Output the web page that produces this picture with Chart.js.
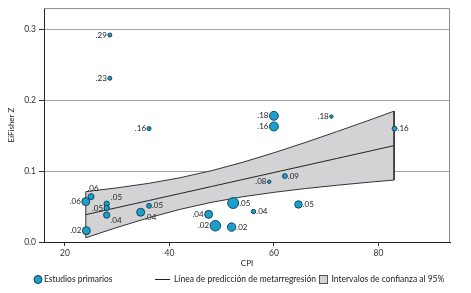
<!DOCTYPE html>
<html>
<head>
<meta charset="utf-8">
<script src="https://cdn.jsdelivr.net/npm/chart.js@4.4.0/dist/chart.umd.min.js"></script>
<style>
  html, body { margin: 0; padding: 0; background: #fff; }
  #wrap { width: 471px; height: 293px; }
</style>
</head>
<body>
<div id="wrap"><canvas id="chart"></canvas></div>
<script>
// Estudios primarios (CPI, EiFisher Z, peso relativo)
const cpi      = [28.6, 28.6, 36.1, 60.0, 60.0, 71.0, 83.1, 62.1, 59.1, 52.2, 56.1, 64.7, 47.5, 48.8, 51.9, 36.1, 34.5, 24.0, 25.0, 24.1, 28.0, 28.0, 28.0];
const fisherZ  = [0.292, 0.231, 0.160, 0.178, 0.163, 0.177, 0.160, 0.093, 0.085, 0.055, 0.043, 0.053, 0.039, 0.023, 0.021, 0.051, 0.042, 0.057, 0.064, 0.016, 0.054, 0.048, 0.038];
const pesos    = [4, 4, 4, 20, 20, 3, 6, 6, 3, 30, 5, 14, 16, 28, 18, 6, 16, 16, 9, 16, 7, 7, 10];
const etiquetas = ['.29', '.23', '.16', '.18', '.16', '.18', '.16', '.09', '.08', '.05', '.04', '.05', '.04', '.02', '.02', '.05', '.04', '.06', '.06', '.02', '.05', '.05', '.04'];
// where each label sits relative to its point
const lado     = ['l', 'l', 'l', 'l', 'l', 'l', 'r', 'r', 'l', 'r', 'r', 'r', 'l', 'l', 'r', 'r', 'rb', 'l', 't', 'l', 'rt', 'l', 'rb'];

// Línea de predicción de metarregresión e intervalo de confianza al 95%
const cpiRecta   = [24, 30, 36, 42, 48, 54, 60, 66, 72, 78, 83];
const prediccion = [0.0386, 0.0485, 0.0584, 0.0683, 0.0782, 0.0881, 0.0980, 0.1079, 0.1178, 0.1277, 0.1360];
const icSuperior = [0.0710, 0.0764, 0.0827, 0.0906, 0.1005, 0.1124, 0.1259, 0.1404, 0.1556, 0.1712, 0.1846];
const icInferior = [0.0060, 0.0206, 0.0341, 0.0460, 0.0559, 0.0638, 0.0701, 0.0754, 0.0800, 0.0842, 0.0874];

const xTicks = [20, 40, 60, 80];
const yTicks = [0, 0.1, 0.2, 0.3];

const FONT = 'Lato';
const AZUL = '#1b9fcb';
const BORDE_PUNTO = '#0f3b4d';
const GRIS_BANDA = '#d3d3d5';

// closed polygon: upper bound left->right, lower bound right->left
const banda = cpiRecta.map((x, i) => ({ x, y: icSuperior[i] }))
  .concat(cpiRecta.map((x, i) => ({ x, y: icInferior[i] })).reverse());
banda.push({ x: cpiRecta[0], y: icSuperior[0] });

const etiquetasPlugin = {
  id: 'etiquetas',
  afterDatasetsDraw(chart) {
    const ctx = chart.ctx;
    const meta = chart.getDatasetMeta(0);
    ctx.save();
    ctx.font = '8px ' + FONT;
    ctx.fillStyle = '#222';
    ctx.textBaseline = 'middle';
    meta.data.forEach((pt, i) => {
      const r = Math.sqrt(pesos[i]);
      const t = etiquetas[i];
      const p = lado[i];
      if (p === 'l') {
        ctx.textAlign = 'right';
        ctx.fillText(t, pt.x - r - 1, pt.y);
      } else if (p === 'r') {
        ctx.textAlign = 'left';
        ctx.fillText(t, pt.x + r + 0.5, pt.y);
      } else if (p === 'rt') {
        ctx.textAlign = 'left';
        ctx.fillText(t, pt.x + r + 1.5, pt.y - 6);
      } else if (p === 'rb') {
        ctx.textAlign = 'left';
        ctx.fillText(t, pt.x + r + 0.5, pt.y + 5.5);
      } else if (p === 't') {
        ctx.textAlign = 'center';
        ctx.fillText(t, pt.x + 2, pt.y - r - 5);
      }
    });
    ctx.restore();
  }
};

const marcoPlugin = {
  id: 'marco',
  afterDraw(chart) {
    const { ctx, chartArea: a } = chart;
    ctx.save();
    ctx.strokeStyle = '#8a8a8a';
    ctx.lineWidth = 1;
    ctx.beginPath();
    ctx.moveTo(a.left, a.top + 0.5);
    ctx.lineTo(a.right - 0.5, a.top + 0.5);
    ctx.lineTo(a.right - 0.5, a.bottom);
    ctx.stroke();

    // leyenda
    const y = 279.5;
    ctx.font = '8.5px ' + FONT;
    ctx.fillStyle = '#222';
    ctx.textBaseline = 'middle';
    ctx.textAlign = 'left';

    ctx.beginPath();
    ctx.arc(38, y, 4, 0, Math.PI * 2);
    ctx.fillStyle = AZUL;
    ctx.fill();
    ctx.strokeStyle = BORDE_PUNTO;
    ctx.stroke();
    ctx.fillStyle = '#222';
    ctx.fillText('Estudios primarios', 44, y);

    ctx.beginPath();
    ctx.moveTo(155, y);
    ctx.lineTo(170, y);
    ctx.strokeStyle = '#222';
    ctx.stroke();
    const t2 = 'Línea de predicción de metarregresión';
    ctx.fillText(t2, 174, y);
    const bx = Math.max(316.5, Math.round(174 + ctx.measureText(t2).width + 3) + 0.5);

    ctx.fillStyle = GRIS_BANDA;
    ctx.fillRect(bx, y - 4, 8, 8);
    ctx.strokeStyle = '#555';
    ctx.strokeRect(bx, y - 4, 8, 8);
    ctx.fillStyle = '#222';
    ctx.fillText('Intervalos de confianza al 95%', bx + 12, y);
    ctx.restore();
  }
};

new Chart(document.getElementById('chart'), {
  type: 'scatter',
  data: {
    datasets: [
      {
        label: 'Estudios primarios',
        data: cpi.map((x, i) => ({ x, y: fisherZ[i] })),
        pointRadius: pesos.map(w => Math.sqrt(w)),
        pointBackgroundColor: AZUL,
        pointBorderColor: BORDE_PUNTO,
        pointBorderWidth: 0.9
      },
      {
        type: 'line',
        label: 'Línea de predicción de metarregresión',
        data: cpiRecta.map((x, i) => ({ x, y: prediccion[i] })),
        borderColor: '#222',
        borderWidth: 1,
        pointRadius: 0,
        fill: false,
        tension: 0
      },
      {
        type: 'line',
        label: 'Intervalos de confianza al 95%',
        data: banda,
        borderColor: '#333',
        borderWidth: 1,
        borderJoinStyle: 'miter',
        backgroundColor: GRIS_BANDA,
        pointRadius: 0,
        fill: 'shape',
        tension: 0
      }
    ]
  },
  options: {
    responsive: true,
    maintainAspectRatio: false,
    animation: false,
    events: [],
    layout: { padding: { top: 7, right: 21, left: 0, bottom: 0 } },
    plugins: {
      legend: { display: false },
      tooltip: { enabled: false }
    },
    scales: {
      x: {
        type: 'linear',
        min: 16,
        max: 93.7,
        afterBuildTicks: s => { s.ticks = xTicks.map(v => ({ value: v })); },
        afterFit: s => { s.height = 51; },
        ticks: {
          font: { family: FONT, size: 8.5 },
          color: '#333',
          padding: 2,
          callback: v => String(v)
        },
        grid: { drawOnChartArea: false, drawTicks: true, tickLength: 4, tickColor: '#333' },
        border: { color: '#222', width: 1 },
        title: { display: true, text: 'CPI', font: { family: FONT, size: 8 }, color: '#222', padding: { top: 0, bottom: 25 } }
      },
      y: {
        type: 'linear',
        min: 0,
        max: 0.33,
        afterBuildTicks: s => { s.ticks = yTicks.map(v => ({ value: v })); },
        afterFit: s => { s.width = 44; },
        ticks: {
          font: { family: FONT, size: 8.5 },
          color: '#333',
          padding: 3,
          callback: v => v.toFixed(1)
        },
        grid: { color: '#a5a5a5', lineWidth: 1, drawTicks: true, tickLength: 5, tickColor: '#333' },
        border: { color: '#222', width: 1 },
        title: { display: true, text: 'EiFisher Z', font: { family: FONT, size: 8 }, color: '#222', padding: { top: 7, bottom: 0 } }
      }
    }
  },
  plugins: [etiquetasPlugin, marcoPlugin]
});
</script>
</body>
</html>
